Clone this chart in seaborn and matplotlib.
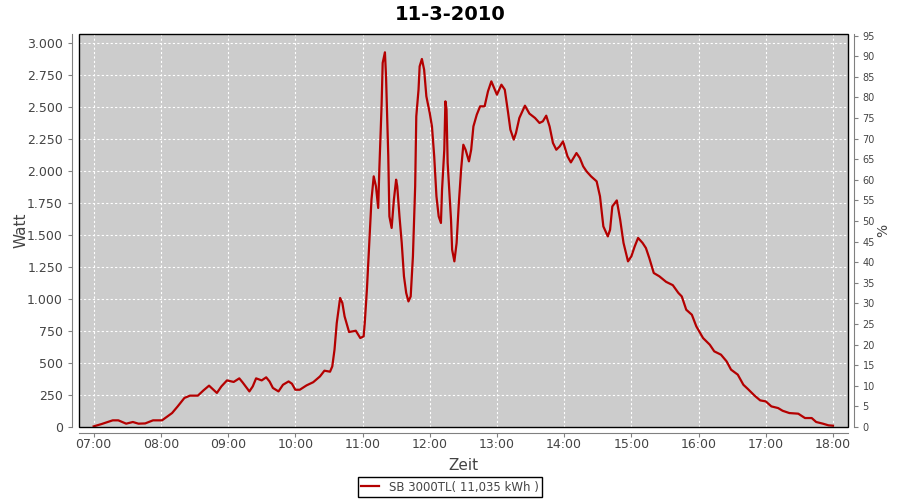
import pandas as pd
import matplotlib
matplotlib.use('Agg')
import matplotlib.pyplot as plt
import matplotlib.dates as mdates
from matplotlib.ticker import FuncFormatter, MultipleLocator
from matplotlib.patches import Rectangle
import seaborn as sns

# Daten
datum = '2010-03-11'
zeit = ["07:00", "07:07", "07:17", "07:22", "07:29", "07:35", "07:40", "07:46", "07:53", "08:01",
        "08:10", "08:15", "08:21", "08:26", "08:33", "08:38", "08:43", "08:50", "08:54", "08:59",
        "09:05", "09:10", "09:13", "09:19", "09:22", "09:25", "09:30", "09:34", "09:37", "09:40",
        "09:45", "09:49", "09:54", "09:57", "10:00", "10:04", "10:10", "10:16", "10:22", "10:26",
        "10:31", "10:33", "10:35", "10:37", "10:40", "10:42", "10:44", "10:48", "10:54", "10:58",
        "11:01", "11:02", "11:04", "11:06", "11:08", "11:10", "11:12", "11:14", "11:15", "11:17",
        "11:18", "11:20", "11:21", "11:23", "11:24", "11:26", "11:28", "11:30", "11:31", "11:33",
        "11:35", "11:37", "11:39", "11:41", "11:43", "11:45", "11:47", "11:48", "11:50", "11:51",
        "11:53", "11:55", "11:57", "12:00", "12:02", "12:04", "12:06", "12:08", "12:10", "12:11",
        "12:13", "12:14", "12:15", "12:16", "12:19", "12:20", "12:22", "12:24", "12:26", "12:28",
        "12:30", "12:32", "12:35", "12:37", "12:39", "12:42", "12:45", "12:49", "12:52", "12:55",
        "13:00", "13:04", "13:07", "13:10", "13:12", "13:15", "13:17", "13:20", "13:25", "13:29",
        "13:34", "13:38", "13:41", "13:44", "13:47", "13:50", "13:53", "13:56", "13:59", "14:03",
        "14:06", "14:11", "14:14", "14:17", "14:20", "14:24", "14:29", "14:32", "14:35", "14:39",
        "14:41", "14:43", "14:47", "14:50", "14:53", "14:57", "15:00", "15:03", "15:06", "15:10",
        "15:13", "15:16", "15:20", "15:25", "15:31", "15:37", "15:42", "15:45", "15:49", "15:54",
        "15:58", "16:04", "16:10", "16:14", "16:20", "16:25", "16:29", "16:35", "16:40", "16:44",
        "16:50", "16:55", "17:00", "17:05", "17:11", "17:15", "17:21", "17:29", "17:35", "17:41",
        "17:45", "17:51", "17:56", "18:00"]
watt = [5, 23, 52, 52, 26, 39, 26, 28, 52, 52,
        109, 161, 227, 245, 245, 286, 323, 266, 317, 364,
        352, 380, 348, 278, 317, 380, 364, 388, 356, 305,
        278, 330, 356, 338, 291, 291, 325, 350, 395, 440,
        432, 473, 604, 812, 1008, 969, 864, 742, 752, 695,
        708, 812, 1086, 1438, 1776, 1958, 1880, 1711, 2010, 2505,
        2844, 2927, 2739, 2114, 1645, 1555, 1776, 1932, 1880, 1645,
        1438, 1177, 1047, 981, 1020, 1333, 1880, 2427, 2635, 2817,
        2875, 2791, 2583, 2453, 2348, 2114, 1802, 1645, 1594, 1854,
        2166, 2544, 2479, 2063, 1620, 1385, 1294, 1438, 1750, 2010,
        2205, 2166, 2075, 2166, 2348, 2440, 2505, 2505, 2622, 2700,
        2596, 2674, 2635, 2453, 2323, 2245, 2297, 2414, 2510, 2448,
        2414, 2375, 2388, 2432, 2348, 2219, 2166, 2192, 2231, 2114,
        2067, 2140, 2101, 2036, 1997, 1958, 1919, 1802, 1567, 1489,
        1541, 1723, 1770, 1620, 1438, 1294, 1333, 1411, 1477, 1438,
        1398, 1320, 1203, 1177, 1134, 1108, 1047, 1020, 916, 877,
        786, 695, 643, 591, 565, 513, 448, 409, 330, 297,
        245, 208, 200, 161, 148, 127, 109, 104, 70, 70,
        39, 26, 13, 10]
serie = 'SB 3000TL( 11,035 kWh )'
titel = '11-3-2010'

df = pd.DataFrame({'Zeit': pd.to_datetime([datum + ' ' + t for t in zeit]), 'Watt': watt})

plt.rcParams['font.family'] = ['DejaVu Sans']

fig = plt.figure(figsize=(9, 5), dpi=100)
ax = fig.add_axes([79 / 900, 1 - 427 / 500, (848 - 79) / 900, (427 - 34) / 500])
ax.set_facecolor('#cccccc')

sns.lineplot(data=df, x='Zeit', y='Watt', ax=ax, color='#b40000', linewidth=1.6,
             estimator=None, label=serie)

# Achsen
ax.set_xlim(pd.Timestamp(datum + ' 06:46:54'), pd.Timestamp(datum + ' 18:13:24'))
ax.set_ylim(0, 3070)
ax.yaxis.set_major_locator(MultipleLocator(250))
ax.yaxis.set_major_formatter(FuncFormatter(lambda v, p: f'{int(v):,}'.replace(',', '.')))
ax.xaxis.set_major_locator(mdates.HourLocator())
ax.xaxis.set_major_formatter(mdates.DateFormatter('%H:%M'))

ax.grid(True, color='white', linestyle=(0, (2, 2)), linewidth=0.8)
ax.set_axisbelow(True)

grau = '#808080'
for s in ['left', 'bottom', 'right']:
    ax.spines[s].set_color(grau)
ax.spines['left'].set_position(('outward', 5))
ax.spines['bottom'].set_position(('outward', 4))
ax.spines['right'].set_visible(False)
ax.spines['top'].set_visible(False)
ax.add_patch(Rectangle((0, 0), 1, 1, transform=ax.transAxes, fill=False,
                       edgecolor='black', linewidth=1.0, clip_on=False, zorder=5))
ax.tick_params(colors=grau, labelcolor='#444444', labelsize=9, length=3)
ax.tick_params(axis='x', pad=1)

ax.set_xlabel('Zeit', fontsize=11, color='#444444', labelpad=5)
ax.set_ylabel('Watt', fontsize=11, color='#444444', labelpad=-1)

# Prozent-Achse rechts
ax2 = ax.twinx()
ax2.set_ylim(0, 95.4)
ax2.yaxis.set_major_locator(MultipleLocator(5))
for s in ['left', 'top', 'bottom']:
    ax2.spines[s].set_visible(False)
ax2.spines['right'].set_position(('outward', 4))
ax2.spines['right'].set_color(grau)
ax2.tick_params(colors=grau, labelcolor='#444444', labelsize=7, length=3)
ax2.set_ylabel('%', fontsize=10, color='#444444', labelpad=1)

fig.suptitle(titel, fontsize=14, fontweight='bold', y=0.99)

ax.get_legend().remove()
leg = fig.legend(loc='center', bbox_to_anchor=(0.5, 1 - 487 / 500), fontsize=8.5,
                 frameon=True, fancybox=False, edgecolor='black', framealpha=1,
                 handlelength=1.5, borderpad=0.3, labelcolor='#444444')
leg.get_frame().set_linewidth(1.0)

fig.savefig('out.png', dpi=100, facecolor='white')
